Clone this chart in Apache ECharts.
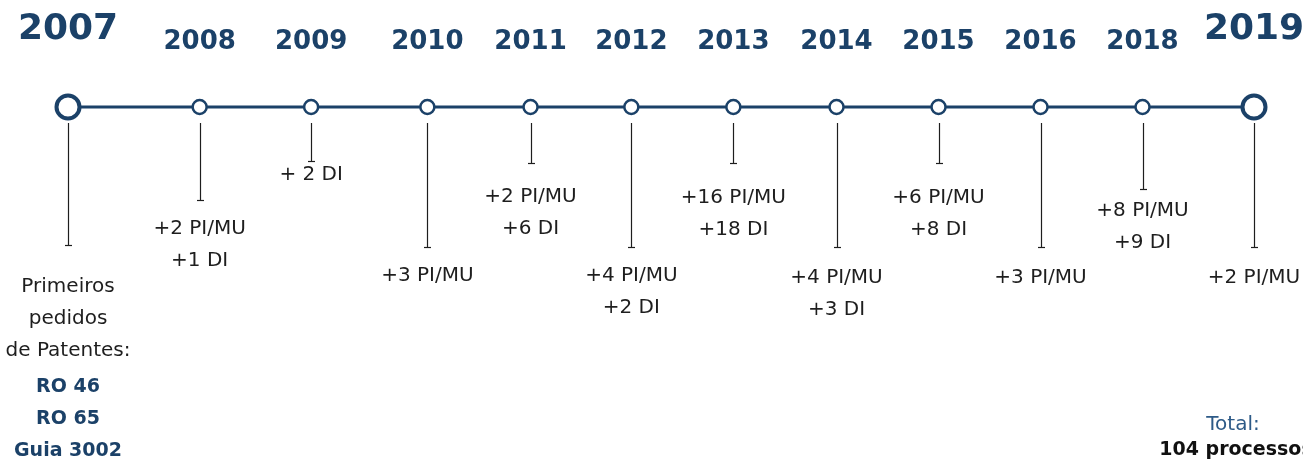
<!DOCTYPE html>
<html>
<head>
<meta charset="utf-8">
<script src="https://cdn.jsdelivr.net/npm/echarts@6/dist/echarts.min.js"></script>
<style>
  html, body { margin: 0; padding: 0; background: #fff; }
  #timeline { width: 1303px; height: 459px; }
</style>
</head>
<body>
<div id="timeline"></div>
<script>
// ---------------- data ----------------
var years = ['2007', '2008', '2009', '2010', '2011', '2012', '2013', '2014', '2015', '2016', '2018', '2019'];
var notes = [
    ['Primeiros', 'pedidos', 'de Patentes:'],
    ['+2 PI/MU', '+1 DI'],
    ['+ 2 DI'],
    ['+3 PI/MU'],
    ['+2 PI/MU', '+6 DI'],
    ['+4 PI/MU', '+2 DI'],
    ['+16 PI/MU', '+18 DI'],
    ['+4 PI/MU', '+3 DI'],
    ['+6 PI/MU', '+8 DI'],
    ['+3 PI/MU'],
    ['+8 PI/MU', '+9 DI'],
    ['+2 PI/MU']
];
var firstPatents = ['RO 46', 'RO 65', 'Guia 3002'];
var totalLabel = 'Total:';
var totalValue = '104 processos';

// ---------------- timeline layout (axis units) ----------------
var slot = [0, 11.1, 20.5, 30.3, 39.0, 47.5, 56.1, 64.8, 73.4, 82.0, 90.6, 100];
var stemEnd = [138, 93, 54, 140, 56, 140, 56, 140, 56, 140, 82, 140];
var noteTop = [180, 122, 68, 169, 90, 169, 91, 171, 91, 171, 104, 171];
var patentTop = 280;

var BLUE = '#1b4168';
var INK = '#1e1e1e';
var FONT = '"DejaVu Sans", sans-serif';

var isEnd = function (i) { return i === 0 || i === years.length - 1; };

var lineData = slot.map(function (s, i) { return [s, 0]; });

var chart = echarts.init(document.getElementById('timeline'));

var option = {
    animation: false,
    title: [
        {
            text: totalLabel, left: 1233, top: 413, textAlign: 'center', padding: 0,
            textStyle: { color: '#2d5a87', fontFamily: FONT, fontWeight: 'normal', fontSize: 20, lineHeight: 24 }
        },
        {
            text: totalValue, left: 1236, top: 438, textAlign: 'center', padding: 0,
            textStyle: { color: '#111', fontFamily: FONT, fontWeight: 'bold', fontSize: 19, lineHeight: 24 }
        }
    ],
    grid: { left: 68, right: 49, top: 0, bottom: 0 },
    xAxis: { type: 'value', min: 0, max: 100, show: false },
    yAxis: { type: 'value', inverse: true, min: -107, max: 352, show: false },
    series: [
        {
            type: 'custom',
            clip: false,
            data: lineData,
            renderItem: function (params, api) {
                var i = params.dataIndex;
                var p = api.coord([api.value(0), 0]);
                var x = Math.round(p[0]) + 0.5;
                var bottom = Math.round(api.coord([api.value(0), stemEnd[i]])[1]) + 0.5;
                var kids = [
                    { type: 'line', shape: { x1: x, y1: p[1] + 16, x2: x, y2: bottom },
                      style: { stroke: INK, lineWidth: 1.2 } },
                    { type: 'line', shape: { x1: x - 3.5, y1: bottom, x2: x + 3.5, y2: bottom },
                      style: { stroke: INK, lineWidth: 1.2 } },
                    { type: 'text', style: {
                        text: years[i], x: p[0], y: p[1] - (isEnd(i) ? 77 : 65),
                        align: 'center', verticalAlign: 'middle',
                        font: 'bold ' + (isEnd(i) ? 36 : 26) + 'px ' + FONT, fill: BLUE } },
                    { type: 'text', style: {
                        text: notes[i].join('\n'), x: p[0], y: api.coord([0, noteTop[i]])[1] - 16,
                        align: 'center', verticalAlign: 'top', lineHeight: 32,
                        font: '20px ' + FONT, fill: INK } }
                ];
                if (i === 0) {
                    kids.push({ type: 'text', style: {
                        text: firstPatents.join('\n'), x: p[0], y: api.coord([0, patentTop])[1] - 16,
                        align: 'center', verticalAlign: 'top', lineHeight: 32,
                        font: 'bold 19px ' + FONT, fill: BLUE } });
                }
                return { type: 'group', children: kids };
            }
        },
        {
            type: 'line',
            clip: false,
            z: 3,
            symbol: 'circle',
            symbolSize: function (v, params) { return isEnd(params.dataIndex) ? 23 : 14; },
            lineStyle: { color: BLUE, width: 3 },
            itemStyle: {
                color: '#fff',
                borderColor: BLUE,
                borderWidth: 2.5
            },
            data: lineData.map(function (d, i) {
                return isEnd(i) ? { value: d, itemStyle: { borderWidth: 4 } } : d;
            })
        }
    ]
};
chart.setOption(option);
</script>
</body>
</html>
